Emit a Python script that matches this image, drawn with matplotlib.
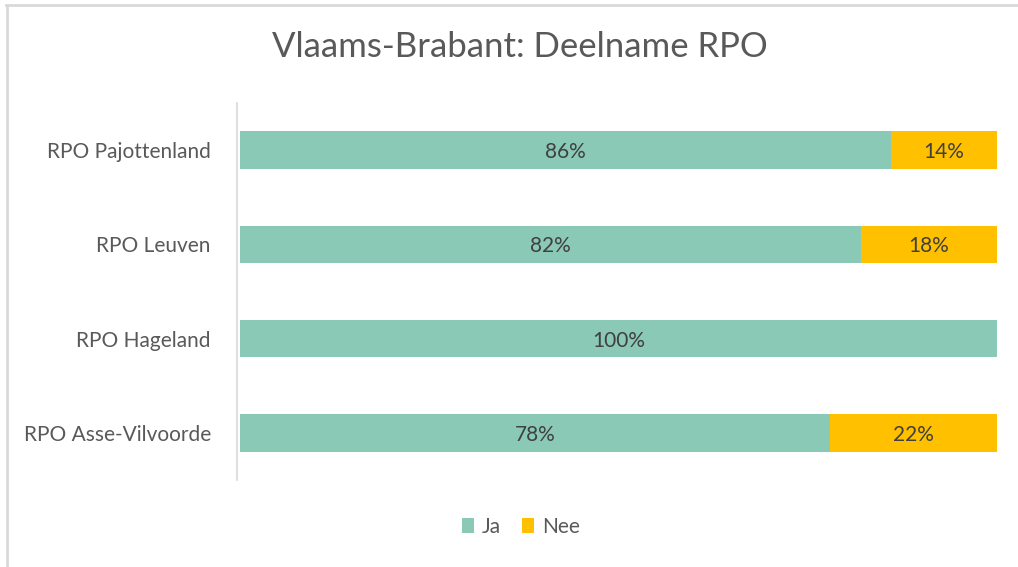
import matplotlib.pyplot as plt
import matplotlib.transforms as mtransforms
from matplotlib.lines import Line2D
import numpy as np

# Deelname per RPO (in procent)
regios = ["RPO Pajottenland", "RPO Leuven", "RPO Hageland", "RPO Asse-Vilvoorde"]
ja = [86, 82, 100, 78]
nee = [14, 18, 0, 22]

kleurJa = "#8AC9B5"
kleurNee = "#FFC000"
tekst = "#595959"
plt.rcParams["font.family"] = ["Lato", "DejaVu Sans"]

fig = plt.figure(figsize=(10.18, 5.67), dpi=100)
ax = fig.add_axes([240/1018, 1-480/567, 757/1018, 377/567])

y = np.arange(len(regios))
ax.barh(y, ja, height=0.4, color=kleurJa, label="Ja")
ax.barh(y, nee, left=ja, height=0.4, color=kleurNee, label="Nee")

# waardelabels iets lager in de balk
omlaag = ax.transData + mtransforms.ScaledTranslation(0, -2/100, fig.dpi_scale_trans)
for i in range(len(regios)):
    ax.text(ja[i]/2, y[i], f"{ja[i]}%", ha="center", va="center",
            fontsize=15, color="#404040", transform=omlaag)
    if nee[i] > 0:
        ax.text(ja[i]+nee[i]/2, y[i], f"{nee[i]}%", ha="center", va="center",
                fontsize=15, color="#404040", transform=omlaag)

ax.set_xlim(0, 100)
ax.set_ylim(len(regios)-0.5, -0.5)
ax.set_yticks(y, regios)
ax.set_xticks([])
ax.tick_params(axis="y", length=0, pad=19, labelsize=15, labelcolor=tekst)
omhoog = mtransforms.ScaledTranslation(0, 3/100, fig.dpi_scale_trans)
for lbl in ax.get_yticklabels():
    lbl.set_transform(lbl.get_transform() + omhoog)
for s in ["top", "right", "bottom"]:
    ax.spines[s].set_visible(False)
ax.spines["left"].set_color("#D9D9D9")
ax.spines["left"].set_linewidth(1.2)
ax.spines["left"].set_position(("outward", 2))

fig.text(520/1018, 1-47/567, "Vlaams-Brabant: Deelname RPO", ha="center", va="center",
         fontsize=25, color=tekst)

ax.legend(loc="center", bbox_to_anchor=(521/1018, 1-527/567), bbox_transform=fig.transFigure,
          ncol=2, frameon=False, fontsize=15, handlelength=0.55, handleheight=0.7,
          handletextpad=0.4, columnspacing=1.0, labelcolor=tekst)

# lichte rand boven en links
fig.add_artist(Line2D([6/1018, 1], [1-5/567, 1-5/567], transform=fig.transFigure,
                      color="#D9D9D9", lw=2))
fig.add_artist(Line2D([7/1018, 7/1018], [0, 1-5/567], transform=fig.transFigure,
                      color="#D9D9D9", lw=2))

fig.savefig("out.png", dpi=100, facecolor="white")
